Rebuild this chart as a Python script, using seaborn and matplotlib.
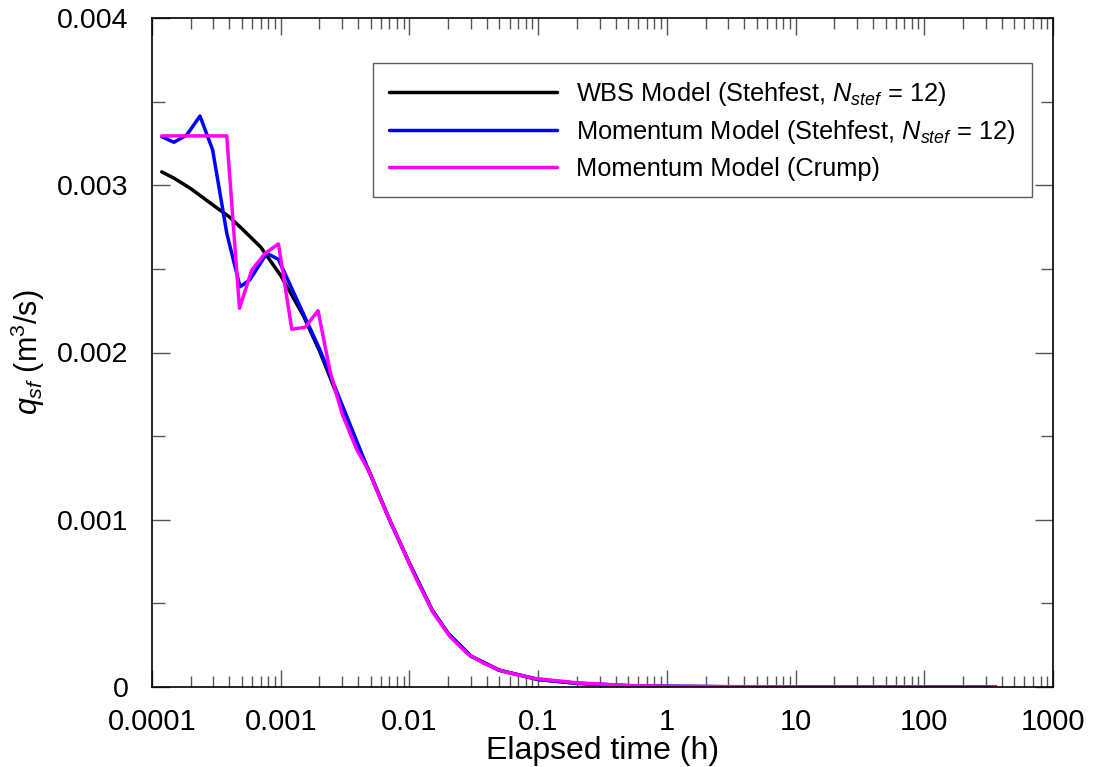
import numpy as np
import pandas as pd
import matplotlib
matplotlib.use("Agg")
import matplotlib.pyplot as plt
import matplotlib.ticker as mticker
import seaborn as sns

# ---------------- data ----------------
t_wbs = [1.19e-4, 1.5e-4, 2e-4, 3e-4, 4e-4, 5e-4, 7e-4, 1e-3, 1.5e-3, 2e-3, 3e-3,
         4e-3, 5e-3, 7e-3, 1e-2, 1.5e-2, 2e-2, 3e-2, 5e-2, 0.1, 0.2, 0.5, 1, 3, 10, 100, 360]
q_wbs = [3.08e-3, 3.04e-3, 2.98e-3, 2.88e-3, 2.81e-3, 2.74e-3, 2.63e-3, 2.46e-3, 2.22e-3,
         2.01e-3, 1.67e-3, 1.43e-3, 1.27e-3, 1.00e-3, 0.74e-3, 0.46e-3, 0.32e-3, 0.185e-3,
         0.10e-3, 0.045e-3, 0.022e-3, 0.008e-3, 0.004e-3, 0.0015e-3, 0.0005e-3, 0.0001e-3,
         0.00005e-3]

t_mom = [1.19e-4, 1.48e-4, 1.86e-4, 2.36e-4, 2.96e-4, 3.81e-4, 4.83e-4, 5.75e-4, 7.8e-4,
         9.6e-4, 2.02e-3, 4.8e-3, 7e-3, 1e-2, 1.5e-2, 2e-2, 3e-2, 5e-2, 0.1, 0.2, 0.5, 1,
         3, 10, 100, 360]
q_mom = [3.29e-3, 3.257e-3, 3.30e-3, 3.414e-3, 3.211e-3, 2.713e-3, 2.393e-3, 2.434e-3,
         2.593e-3, 2.557e-3, 2.015e-3, 1.297e-3, 1.00e-3, 0.74e-3, 0.46e-3, 0.32e-3,
         0.185e-3, 0.10e-3, 0.045e-3, 0.022e-3, 0.008e-3, 0.004e-3, 0.0015e-3, 0.0005e-3,
         0.0001e-3, 0.00005e-3]

t_crump = [1.19e-4, 3.81e-4, 4.78e-4, 5.96e-4, 7.57e-4, 9.6e-4, 1.22e-3, 1.55e-3, 1.95e-3,
           2.42e-3, 2.99e-3, 3.91e-3, 4.81e-3, 6.31e-3, 8.49e-3, 1.14e-2, 1.54e-2, 2.07e-2,
           2.8e-2, 3.77e-2, 5.4e-2, 9.2e-2, 0.2, 0.5, 1, 10, 100, 360]
q_crump = [3.295e-3, 3.295e-3, 2.264e-3, 2.493e-3, 2.593e-3, 2.649e-3, 2.139e-3, 2.151e-3,
           2.25e-3, 1.885e-3, 1.636e-3, 1.417e-3, 1.297e-3, 1.078e-3, 0.859e-3, 0.640e-3,
           0.441e-3, 0.301e-3, 0.201e-3, 0.142e-3, 0.092e-3, 0.052e-3, 0.025e-3, 0.009e-3,
           0.004e-3, 0.0006e-3, 0.0001e-3, 0.00005e-3]

series_labels = ["WBS Model (Stehfest, $N_{stef}$ = 12)",
                 "Momentum Model (Stehfest, $N_{stef}$ = 12)",
                 "Momentum Model (Crump)"]
series_colors = ["#000000", "#0000FF", "#FF00FF"]

x_ticks = [1e-4, 1e-3, 1e-2, 1e-1, 1, 10, 100, 1000]
x_tick_labels = ["0.0001", "0.001", "0.01", "0.1", "1", "10", "100", "1000"]
y_ticks = [0, 0.001, 0.002, 0.003, 0.004]
y_tick_labels = ["0", "0.001", "0.002", "0.003", "0.004"]

# ---------------- style ----------------
sns.set_style("ticks")
plt.rcParams["font.family"] = ["Liberation Sans", "DejaVu Sans"]
plt.rcParams["mathtext.fontset"] = "custom"
plt.rcParams["mathtext.rm"] = "Liberation Sans"
plt.rcParams["mathtext.it"] = "Liberation Sans:italic"
plt.rcParams["mathtext.bf"] = "Liberation Sans:bold"
plt.rcParams["text.color"] = "black"
plt.rcParams["axes.labelcolor"] = "black"
plt.rcParams["xtick.labelcolor"] = "black"
plt.rcParams["ytick.labelcolor"] = "black"

fig = plt.figure(figsize=(10.95, 7.67), dpi=100)
ax = fig.add_axes([152 / 1095, 80 / 767, 901 / 1095, 669 / 767])

data = [(t_wbs, q_wbs), (t_mom, q_mom), (t_crump, q_crump)]
for (tx, qy), lab, col in zip(data, series_labels, series_colors):
    sns.lineplot(x=tx, y=qy, ax=ax, color=col, linewidth=2.5, label=lab,
                 estimator=None, sort=False)

ax.set_xscale("log")
ax.set_xlim(1e-4, 1000)
ax.set_ylim(0, 0.004)

ax.set_xticks(x_ticks)
ax.set_xticklabels(x_tick_labels)
ax.xaxis.set_minor_locator(mticker.LogLocator(base=10, subs=np.arange(2, 10), numticks=50))
ax.xaxis.set_minor_formatter(mticker.NullFormatter())
ax.set_yticks(y_ticks)
ax.set_yticklabels(y_tick_labels)
ax.yaxis.set_minor_locator(mticker.MultipleLocator(0.0005))

ax.tick_params(axis="both", which="both", direction="in", top=True, right=True,
               color="#555555", width=1.0)
ax.tick_params(axis="x", which="major", length=12, pad=15, labelsize=21)
ax.tick_params(axis="x", which="minor", length=8)
ax.tick_params(axis="y", which="major", length=13, pad=17, labelsize=20.5)
ax.tick_params(axis="y", which="minor", length=9)

for sp in ax.spines.values():
    sp.set_color("black")
    sp.set_linewidth(1.2)

ax.set_xlabel("Elapsed time (h)", fontsize=23, labelpad=0)
ax.set_ylabel(r"$q_{sf}$ (m$^3$/s)", fontsize=22, labelpad=7)

leg = ax.legend(loc="upper right", bbox_to_anchor=(0.9767, 0.9327), borderaxespad=0,
                fontsize=18.3, frameon=True, fancybox=False, handlelength=6.6,
                handletextpad=0.75, borderpad=0.65, labelspacing=0.42)
leg.get_frame().set_edgecolor("#333333")
leg.get_frame().set_linewidth(1.0)
for line in leg.get_lines():
    line.set_linewidth(2.5)

fig.savefig("out.png", dpi=100)
